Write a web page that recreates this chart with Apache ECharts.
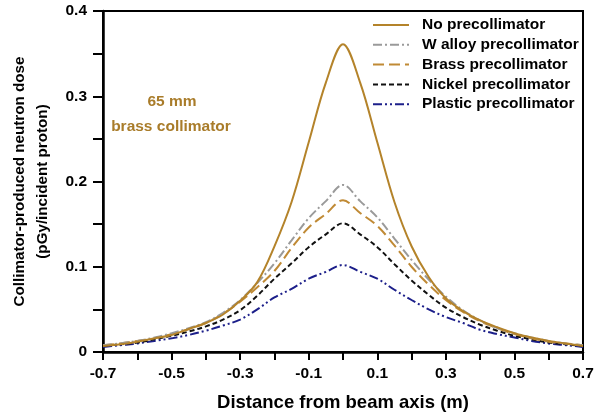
<!DOCTYPE html>
<html>
<head>
<meta charset="utf-8">
<script src="https://cdn.jsdelivr.net/npm/echarts@6/dist/echarts.min.js"></script>
<style>html,body{margin:0;padding:0;background:#fff}#c{width:600px;height:417px}</style>
</head>
<body>
<div id="c"></div>
<script>
var distances = [-0.7,-0.65,-0.6,-0.55,-0.5,-0.45,-0.4,-0.35,-0.3,-0.25,-0.2,-0.15,-0.1,-0.05,0,0.05,0.1,0.15,0.2,0.25,0.3,0.35,0.4,0.45,0.5,0.55,0.6,0.65,0.7];
var noPrecollimator = [0.007,0.009,0.012,0.016,0.020,0.027,0.034,0.044,0.060,0.082,0.124,0.176,0.246,0.316,0.361,0.316,0.246,0.176,0.124,0.088,0.063,0.048,0.037,0.029,0.022,0.017,0.013,0.010,0.007];
var wAlloy = [0.008,0.010,0.013,0.017,0.022,0.028,0.035,0.046,0.061,0.081,0.104,0.131,0.157,0.177,0.196,0.177,0.158,0.133,0.108,0.085,0.065,0.049,0.037,0.028,0.022,0.017,0.013,0.010,0.008];
var brass = [0.008,0.010,0.013,0.016,0.021,0.027,0.034,0.045,0.059,0.076,0.095,0.122,0.146,0.162,0.178,0.163,0.148,0.125,0.100,0.079,0.061,0.047,0.036,0.028,0.021,0.016,0.012,0.010,0.008];
var nickel = [0.007,0.009,0.011,0.015,0.019,0.024,0.030,0.038,0.049,0.066,0.086,0.104,0.123,0.138,0.151,0.138,0.123,0.103,0.084,0.067,0.052,0.041,0.032,0.025,0.019,0.015,0.011,0.009,0.007];
var plastic = [0.006,0.008,0.010,0.013,0.016,0.020,0.025,0.031,0.038,0.050,0.064,0.074,0.086,0.094,0.102,0.094,0.086,0.073,0.061,0.050,0.041,0.034,0.026,0.021,0.017,0.013,0.010,0.008,0.006];
var seriesNames = ['No precollimator','W alloy precollimator','Brass precollimator','Nickel precollimator','Plastic precollimator'];
var xTickLabels = ['-0.7','-0.5','-0.3','-0.1','0.1','0.3','0.5','0.7'];

function pairs(v){ return distances.map(function(d,i){ return [d, v[i]]; }); }
var FONT = "'Liberation Sans', Arial, Helvetica, sans-serif";
var chart = echarts.init(document.getElementById('c'));
var styles = [
  {color:'#b4832a', type:'solid', width:2},
  {color:'#9a9a9a', type:[9,3,2,3], width:2},
  {color:'#c08a35', type:[11,5], width:2},
  {color:'#111111', type:[5,3], width:2},
  {color:'#1c1f8a', type:[9,3,2,3,2,3], width:2}
];
var data = [noPrecollimator, wAlloy, brass, nickel, plastic];
var series = data.map(function(v,i){
  return {
    name: seriesNames[i], type:'line', data: pairs(v), smooth:0.35,
    showSymbol:false, symbol:'none',
    lineStyle:{color:styles[i].color, type:styles[i].type, width:styles[i].width},
    itemStyle:{color:styles[i].color},
    z: 10 - i
  };
});
chart.setOption({
  animation:false,
  backgroundColor:'#fff',
  grid:{left:103,right:17,top:11,bottom:65,show:true,borderColor:'#000',borderWidth:2,backgroundColor:'transparent',outerBoundsMode:'none',containLabel:false},
  legend:{
    orient:'vertical', left:372, top:17, itemWidth:36, itemHeight:12, itemGap:3.8, padding:0,
    data: seriesNames,
    itemStyle:{opacity:0},
    textStyle:{fontFamily:FONT, fontWeight:'bold', fontSize:15.5, color:'#000', lineHeight:15.5, padding:[0,0,0,8]}
  },
  xAxis:{
    type:'value', min:-0.7, max:0.7, interval:0.2,
    name:'Distance from beam axis (m)', nameLocation:'middle', nameGap:41,
    nameTextStyle:{fontFamily:FONT, fontWeight:'bold', fontSize:18.5, color:'#000'},
    axisLine:{onZero:false, lineStyle:{color:'#000', width:2.5}},
    axisTick:{length:8, lineStyle:{color:'#000', width:2}},
    minorTick:{show:true, splitNumber:2, length:8, lineStyle:{color:'#000', width:2}},
    splitLine:{show:false},
    axisLabel:{fontFamily:FONT, fontWeight:'bold', fontSize:15.5, color:'#000', margin:14,
      formatter:function(v){ var s=xTickLabels.filter(function(t){return Math.abs(parseFloat(t)-v)<1e-6;}); return s.length?s[0]:''; }}
  },
  yAxis:{
    type:'value', min:0, max:0.4, interval:0.1,
    name:'Collimator-produced neutron dose\n(pGy/incident proton)', nameLocation:'middle', nameGap:49, nameRotate:90,
    nameTextStyle:{fontFamily:FONT, fontWeight:'bold', fontSize:15.2, color:'#000', lineHeight:23},
    axisLine:{onZero:false, lineStyle:{color:'#000', width:2.5}},
    axisTick:{length:10, lineStyle:{color:'#000', width:2}},
    minorTick:{show:true, splitNumber:2, length:10, lineStyle:{color:'#000', width:2}},
    splitLine:{show:false},
    axisLabel:{fontFamily:FONT, fontWeight:'bold', fontSize:15.5, color:'#000', margin:16,
      formatter:function(v){ return v===0?'0':String(Math.round(v*10)/10); }}
  },
  graphic:[
    {type:'text', x:172, y:102, style:{text:'65 mm', fontFamily:FONT, fontWeight:'bold', fontSize:15.5, fill:'#a97c2a', textAlign:'center', textVerticalAlign:'middle'}},
    {type:'text', x:171, y:127, style:{text:'brass collimator', fontFamily:FONT, fontWeight:'bold', fontSize:15.5, fill:'#a97c2a', textAlign:'center', textVerticalAlign:'middle'}}
  ],
  series: series
});
</script>
</body>
</html>
